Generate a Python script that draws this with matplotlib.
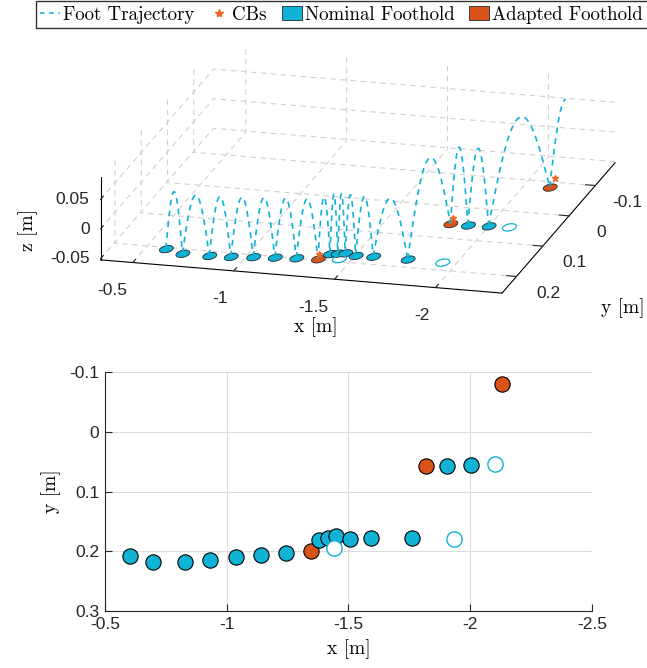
import matplotlib
matplotlib.use("Agg")
import matplotlib.pyplot as plt
from matplotlib.lines import Line2D
from matplotlib.patches import Patch
from matplotlib.transforms import offset_copy
from mpl_toolkits.mplot3d.art3d import Poly3DCollection
from mpl_toolkits.mplot3d import proj3d
import numpy as np

plt.rcParams['font.family'] = ['Liberation Sans', 'DejaVu Sans']
plt.rcParams['axes.unicode_minus'] = False
plt.rcParams['font.size'] = 12.5

CYAN = '#10b3d6'
ORANGE = '#d95319'
EDGE = '#1a2a33'
SERIF = 'cmr10'

# footholds actually stepped on, in order (type: n = nominal, a = adapted)
step_x = [-0.602, -0.697, -0.830, -0.933, -1.038, -1.140, -1.242, -1.346, -1.381,
          -1.415, -1.448, -1.507, -1.591, -1.762, -1.817, -1.904, -2.003, -2.130]
step_y = [0.2075, 0.2175, 0.2175, 0.2148, 0.210, 0.206, 0.2025, 0.200, 0.181,
          0.1775, 0.1747, 0.180, 0.178, 0.178, 0.0577, 0.0577, 0.055, -0.080]
step_type = ['n', 'n', 'n', 'n', 'n', 'n', 'n', 'a', 'n',
             'n', 'n', 'n', 'n', 'n', 'a', 'n', 'n', 'a']

# nominal footholds that were replaced (hollow)
skip_x = [-1.442, -1.934, -2.101]
skip_y = [0.194, 0.1785, 0.053]

# CBs (3D only)
cb_x = [-1.340, -1.815, -2.128]
cb_y = [0.192, 0.046, -0.100]
cb_z = [-0.046, -0.046, -0.045]

# swing apex height above ground, one per step-to-step swing
swing_h = [0.10, 0.10, 0.10, 0.10, 0.10, 0.10, 0.10, 0.10, 0.10,
           0.10, 0.10, 0.10, 0.10, 0.14, 0.13, 0.13, 0.15]
# last swing, stopped at its apex
last_target = (-2.29, -0.080)
last_h = 0.15
ground_z = -0.05

x_ticks3 = [-2, -1.5, -1, -0.5]
x_labels3 = ['-2', '-1.5', '-1', '-0.5']
y_ticks3 = [-0.1, 0, 0.1, 0.2]
y_labels3 = ['-0.1', '0', '0.1', '0.2']
z_ticks3 = [-0.05, 0, 0.05]
z_labels3 = ['-0.05', '0', '0.05']

x_ticks2 = [-0.5, -1, -1.5, -2, -2.5]
x_labels2 = ['-0.5', '-1', '-1.5', '-2', '-2.5']
y_ticks2 = [-0.1, 0, 0.1, 0.2, 0.3]
y_labels2 = ['-0.1', '0', '0.1', '0.2', '0.3']

xlim3 = (-2.33, -0.34)
ylim3 = (-0.175, 0.255)
zlim3 = (-0.052, 0.088)

fig = plt.figure(figsize=(6.47, 6.68), dpi=100)

# ---------------- 3D view ----------------
ax3 = fig.add_axes([0.046, 0.489, 1.0, 0.50], projection='3d', computed_zorder=False)
ax3.set_proj_type('ortho')
ax3.view_init(elev=18, azim=105)
ax3.set_box_aspect((1, 1.05, 0.21), zoom=1.77)
ax3.set_xlim(*xlim3)
ax3.set_ylim(*ylim3)
ax3.set_zlim(*zlim3)
for a in (ax3.xaxis, ax3.yaxis, ax3.zaxis):
    a.set_pane_color((1, 1, 1, 0))
    a._axinfo['grid'].update({'color': '#d0d0d0', 'linestyle': (0, (5, 4)), 'linewidth': 0.8})
    a._axinfo['axisline']['color'] = '#262626'
    a._axinfo['tick']['inward_factor'] = 0.0
    a._axinfo['tick']['outward_factor'] = 0.3
ax3.zaxis.set_ticks_position('upper')
ax3.set_xticks(x_ticks3, [''] * len(x_ticks3))
ax3.set_yticks(y_ticks3, y_labels3)
ax3.set_zticks(z_ticks3, [''] * len(z_ticks3))
ax3.tick_params(colors='#262626', pad=2)

rx, ry = 0.031, 0.012
tt = np.linspace(0, 2 * np.pi, 30)


def disk(cx, cy):
    return list(zip(cx + rx * np.cos(tt), cy + ry * np.sin(tt), np.full_like(tt, ground_z)))


for i in range(len(step_x)):
    fc = CYAN if step_type[i] == 'n' else ORANGE
    pc = Poly3DCollection([disk(step_x[i], step_y[i])], facecolors=[fc], edgecolors=[EDGE],
                          linewidths=0.6, zorder=2, clip_on=False)
    ax3.add_collection3d(pc)
for i in range(len(skip_x)):
    pc = Poly3DCollection([disk(skip_x[i], skip_y[i])], facecolors=[(1, 1, 1, 0)], edgecolors=[CYAN],
                          linewidths=0.9, zorder=2, clip_on=False)
    ax3.add_collection3d(pc)

s = np.linspace(0, 1, 60)
for i in range(len(step_x) - 1):
    xs = step_x[i] + (step_x[i + 1] - step_x[i]) * s
    ys = step_y[i] + (step_y[i + 1] - step_y[i]) * s
    zs = ground_z + swing_h[i] * np.sin(np.pi * s)
    ax3.plot(xs, ys, zs, color=CYAN, lw=1.2, dashes=(3.5, 3), zorder=3, clip_on=False)
sh = np.linspace(0, 0.5, 30)
xs = step_x[-1] + (last_target[0] - step_x[-1]) * sh
ys = step_y[-1] + (last_target[1] - step_y[-1]) * sh
zs = ground_z + last_h * np.sin(np.pi * sh)
ax3.plot(xs, ys, zs, color=CYAN, lw=1.2, dashes=(3.5, 3), zorder=3, clip_on=False)

ax3.plot(cb_x, cb_y, cb_z, '*', color='#f26522', ms=5, zorder=4, linestyle='none', clip_on=False)

# x and z tick labels placed next to their front axis lines
fig.canvas.draw()
M = ax3.get_proj()
ztrans = offset_copy(ax3.transData, fig=fig, x=-11, y=0, units='dots')
for zt, lab in zip(z_ticks3, z_labels3):
    px, py, _ = proj3d.proj_transform(xlim3[1], ylim3[1], zt, M)
    ax3.text2D(px, py, lab, transform=ztrans, ha='right', va='center', color='#262626')
xtrans = offset_copy(ax3.transData, fig=fig, x=-6, y=-28, units='dots')
for xt, lab in zip(x_ticks3, x_labels3):
    px, py, _ = proj3d.proj_transform(xt, ylim3[1], zlim3[0], M)
    ax3.text2D(px, py, lab, transform=xtrans, ha='right', va='center', color='#262626')

fig.text(0.043, 0.655, 'z [m]', rotation=90, ha='center', va='center', family=SERIF, fontsize=14)
fig.text(0.488, 0.510, 'x [m]', ha='center', va='center', family=SERIF, fontsize=14)
fig.text(0.962, 0.539, 'y [m]', ha='center', va='center', family=SERIF, fontsize=14)

# ---------------- 2D top view ----------------
ax = fig.add_axes([0.162, 0.085, 0.753, 0.358])
for i in range(len(step_x)):
    fc = CYAN if step_type[i] == 'n' else ORANGE
    ax.plot(step_x[i], step_y[i], 'o', ms=11, mfc=fc, mec='k', mew=0.8, zorder=3)
ax.plot(skip_x, skip_y, 'o', ms=11, mfc='white', mec=CYAN, mew=1.0, linestyle='none', zorder=3)
ax.set_xlim(-0.5, -2.5)
ax.set_ylim(0.3, -0.1)
ax.set_xticks(x_ticks2, x_labels2)
ax.set_yticks(y_ticks2, y_labels2)
ax.grid(True, color='#dcdcdc', lw=0.8)
ax.set_axisbelow(True)
for sp in ('top', 'right'):
    ax.spines[sp].set_visible(False)
for sp in ('left', 'bottom'):
    ax.spines[sp].set_color('#262626')
ax.tick_params(direction='in', length=5, colors='#262626', pad=4)
ax.set_xlabel('x [m]', family=SERIF, fontsize=14, labelpad=5)
ax.set_ylabel('y [m]', family=SERIF, fontsize=14, labelpad=6)

# ---------------- legend ----------------
handles = [
    Line2D([], [], color=CYAN, dashes=(3, 3), lw=1.1),
    Line2D([], [], color='#f26522', marker='*', ls='none', ms=6),
    Patch(facecolor=CYAN, edgecolor=EDGE, lw=0.6),
    Patch(facecolor=ORANGE, edgecolor=EDGE, lw=0.6),
]
labels = ['Foot Trajectory', 'CBs', 'Nominal Foothold', 'Adapted Foothold']
leg = fig.legend(handles, labels, loc='center', bbox_to_anchor=(0.528, 0.978), ncol=4,
                 frameon=True, fancybox=False, edgecolor='k', handlelength=1.05,
                 handletextpad=0.15, columnspacing=0.8, borderpad=0.25, borderaxespad=0.1,
                 prop={'family': SERIF, 'size': 13.6})
leg.get_frame().set_linewidth(1.0)

fig.savefig('out.png', dpi=100)
